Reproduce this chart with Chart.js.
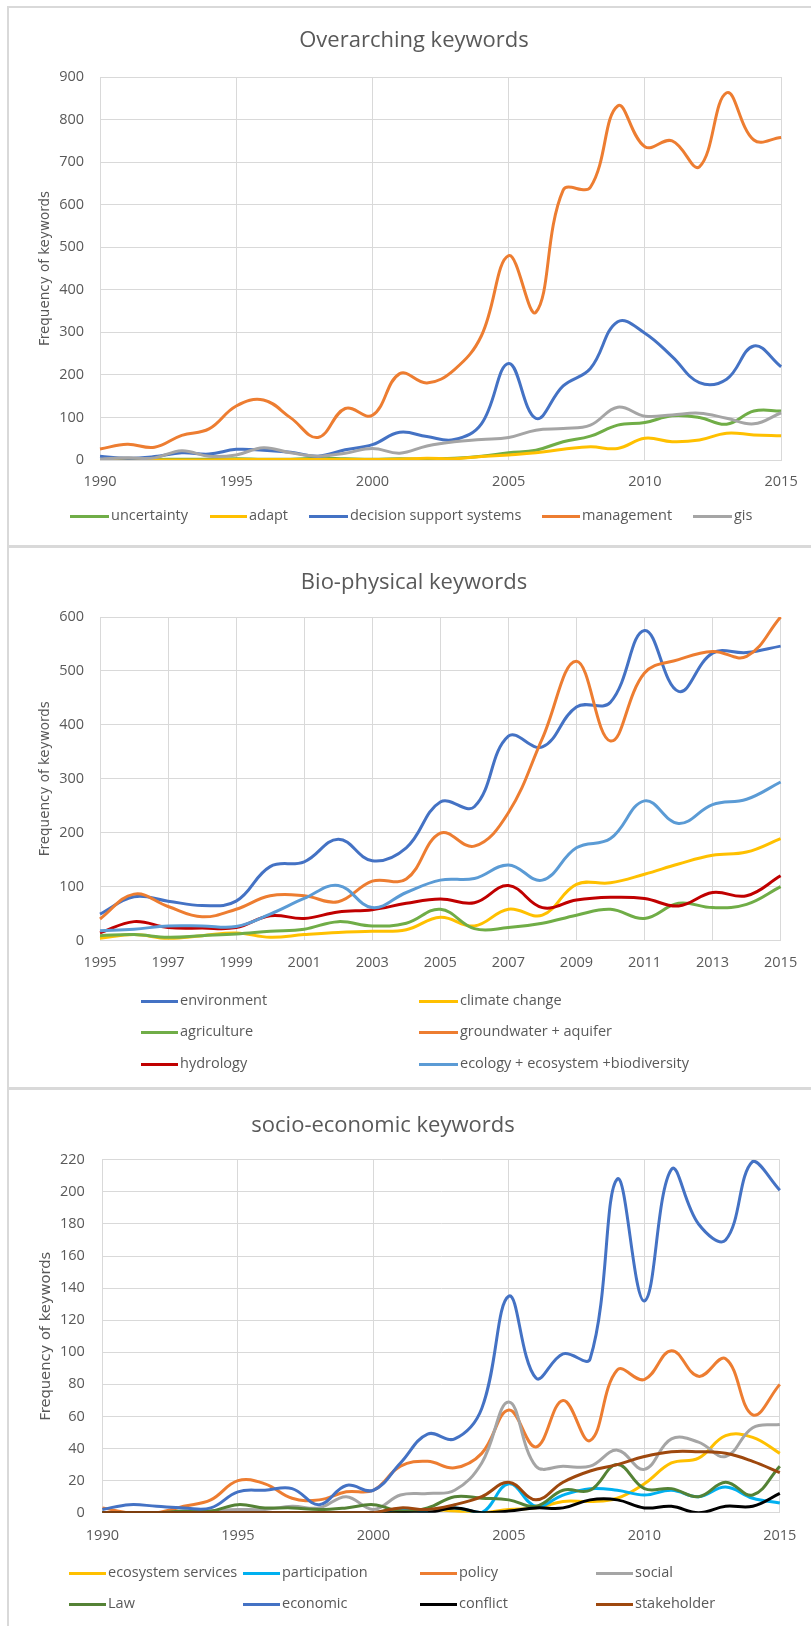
<!DOCTYPE html>
<html>
<head>
<meta charset="utf-8">
<script src="https://cdn.jsdelivr.net/npm/chart.js@4.4.0/dist/chart.umd.min.js"></script>
<style>
body { margin: 0; background: #fff; }
#page { position: relative; width: 811px; height: 1626px; overflow: hidden; background: #fff; font-family: 'Open Sans', sans-serif; color: #595959; }
.rule { position: absolute; background: #d9d9d9; }
canvas { position: absolute; left: 8px; }
.title { position: absolute; width: 500px; text-align: center; font-size: 22px; line-height: 30px; white-space: nowrap; }
.swatch { position: absolute; height: 3px; }
.label { position: absolute; font-size: 14.5px; line-height: 20px; white-space: nowrap; }
</style>
</head>
<body>
<div id="page">
  <div class="rule" style="left:7px;top:6px;width:2px;height:1620px"></div>
  <div class="rule" style="left:7px;top:6px;width:804px;height:2px"></div>
  <div class="rule" style="left:7px;top:545px;width:804px;height:3px"></div>
  <div class="rule" style="left:7px;top:1087px;width:804px;height:3px"></div>
  <canvas id="overarching" width="803" height="537" style="top:8px"></canvas>
  <canvas id="biophysical" width="803" height="539" style="top:548px"></canvas>
  <canvas id="socioeconomic" width="803" height="536" style="top:1090px"></canvas>
</div>
<script>
Chart.defaults.font.family = "'Open Sans', sans-serif";
Chart.defaults.color = '#595959';

// Overarching keywords (1990-2015)
const overYears = [1990,1991,1992,1993,1994,1995,1996,1997,1998,1999,2000,2001,2002,2003,2004,2005,2006,2007,2008,2009,2010,2011,2012,2013,2014,2015];
const overNames = ['uncertainty', 'adapt', 'decision support systems', 'management', 'gis'];
const overColors = ['#70AD47', '#FFC000', '#4472C4', '#ED7D31', '#A5A5A5'];
const uncertainty = [0,0,1,2,2,3,2,2,4,3,2,3,2,4,9,17,23,43,56,82,88,104,100,84,115,115];
const adapt = [0,0,0,0,0,1,1,1,1,1,1,2,4,3,8,12,17,25,31,27,51,43,47,63,59,57];
const decisionSupport = [9,4,8,17,14,25,23,18,9,24,36,65,55,48,85,227,98,174,215,325,298,243,182,190,268,219];
const management = [26,37,30,58,73,127,141,99,53,121,105,203,181,212,292,480,347,634,641,832,736,750,689,863,752,758];
const gis = [2,5,5,22,9,12,29,17,9,16,27,16,33,43,48,53,70,74,82,124,103,106,110,98,85,111];

// Bio-physical keywords (1995-2015)
const bioYears = [1995,1996,1997,1998,1999,2000,2001,2002,2003,2004,2005,2006,2007,2008,2009,2010,2011,2012,2013,2014,2015];
const bioNames = ['environment', 'climate change', 'agriculture', 'groundwater + aquifer', 'hydrology', 'ecology + ecosystem +biodiversity'];
const bioColors = ['#4472C4', '#FFC000', '#70AD47', '#ED7D31', '#C00000', '#5B9BD5'];
const environment = [49,81,73,65,73,137,146,188,148,172,257,248,379,359,433,442,575,462,533,534,546];
const climateChange = [4,11,4,9,14,6,11,15,17,20,43,27,58,47,104,107,123,142,158,164,189];
const agriculture = [9,11,6,9,12,17,21,35,27,32,58,22,24,32,47,58,41,69,61,67,100];
const groundwater = [40,86,63,44,58,83,83,72,110,114,199,175,237,375,518,370,496,521,536,527,600];
const hydrology = [14,35,24,23,24,46,41,53,57,69,77,70,102,61,75,80,78,64,89,83,120];
const ecology = [18,21,27,27,26,49,78,102,61,89,112,115,140,112,172,189,259,217,252,262,294];

// socio-economic keywords (1990-2015)
const socioYears = [1990,1991,1992,1993,1994,1995,1996,1997,1998,1999,2000,2001,2002,2003,2004,2005,2006,2007,2008,2009,2010,2011,2012,2013,2014,2015];
const socioNames = ['ecosystem services', 'participation', 'policy', 'social', 'Law', 'economic', 'conflict', 'stakeholder'];
const socioColors = ['#FFC000', '#00B0F0', '#ED7D31', '#A5A5A5', '#548235', '#4472C4', '#000000', '#9E480E'];
const ecosystemServices = [0,0,0,0,0,0,0,0,0,0,0,1,2,1,0,2,3,7,7,9,18,31,34,48,47,37];
const participation = [0,0,0,0,0,0,0,0,0,0,0,2,1,3,0,18,4,11,15,14,11,14,10,16,9,6];
const policy = [3,0,0,4,8,20,18,9,8,13,14,29,32,28,37,64,41,70,45,89,83,101,85,96,61,80];
const social = [0,0,0,0,1,2,2,4,3,10,2,11,12,14,31,69,29,29,29,39,27,46,44,35,53,55];
const law = [0,0,0,1,1,5,3,3,2,3,5,1,3,10,9,8,4,14,14,30,15,15,10,19,11,29];
const economic = [2,5,4,3,3,13,14,15,5,17,14,31,49,46,65,135,84,99,96,208,132,214,180,170,219,201];
const conflict = [0,0,0,0,0,0,0,0,0,0,0,0,0,3,0,1,3,3,8,8,3,4,0,4,4,12];
const stakeholder = [0,0,0,0,0,0,0,0,0,0,0,3,2,5,10,19,8,19,26,30,35,38,38,37,32,25];

const page = document.getElementById('page');

function addTitle(text, centerX, centerY) {
    const el = document.createElement('div');
    el.className = 'title';
    el.textContent = text;
    el.style.left = (centerX - 250) + 'px';
    el.style.top = (centerY - 15) + 'px';
    page.appendChild(el);
}

// legend drawn as html, laid out in a grid like the excel one
function addLegend(names, colors, rowYs, cols) {
    names.forEach((name, i) => {
        const row = Math.floor(i / cols.length);
        const col = cols[i % cols.length];
        const sw = document.createElement('div');
        sw.className = 'swatch';
        sw.style.left = col[0] + 'px';
        sw.style.width = (col[1] - col[0]) + 'px';
        sw.style.top = (rowYs[row] - 1.5) + 'px';
        sw.style.background = colors[i];
        page.appendChild(sw);
        const lb = document.createElement('div');
        lb.className = 'label';
        lb.textContent = name;
        lb.style.left = (col[1] + 2) + 'px';
        lb.style.top = (rowYs[row] - 11) + 'px';
        page.appendChild(lb);
    });
}

function makeChart(id, cfg) {
    const n = cfg.names.length;
    return new Chart(document.getElementById(id), {
        type: 'line',
        data: {
            labels: cfg.labels,
            datasets: cfg.names.map((name, i) => ({
                label: name,
                data: cfg.series[i],
                borderColor: cfg.colors[i],
                backgroundColor: cfg.colors[i],
                borderWidth: 3,
                pointRadius: 0,
                tension: 0.4,
                fill: false,
                order: n - i
            }))
        },
        options: {
            responsive: false,
            animation: false,
            layout: { padding: cfg.padding },
            plugins: {
                legend: { display: false },
                tooltip: { enabled: false },
                title: { display: false }
            },
            scales: {
                x: {
                    grid: {
                        color: ctx => ctx.index % cfg.every === 0 ? '#d9d9d9' : 'rgba(0,0,0,0)',
                        drawTicks: false
                    },
                    border: { color: '#d9d9d9' },
                    ticks: {
                        autoSkip: false,
                        maxRotation: 0,
                        padding: cfg.xPad,
                        font: { size: 14.5 },
                        callback: function(v, i) {
                            return i % cfg.every === 0 ? this.getLabelForValue(v) : '';
                        }
                    },
                    afterFit: s => { s.height = 40; }
                },
                y: {
                    min: 0,
                    max: cfg.max,
                    grid: { color: '#d9d9d9', drawTicks: false },
                    border: { color: '#d9d9d9' },
                    ticks: { stepSize: cfg.step, padding: cfg.yPad, font: { size: 14.5 } },
                    title: {
                        display: true,
                        text: 'Frequency of keywords',
                        font: { family: 'DejaVu Sans', size: cfg.ySize },
                        padding: { top: cfg.yTitlePad, bottom: 0 }
                    },
                    afterFit: s => { s.width = cfg.yWidth; }
                }
            }
        }
    });
}

makeChart('overarching', {
    labels: overYears,
    names: overNames,
    colors: overColors,
    series: [uncertainty, adapt, decisionSupport, management, gis],
    every: 5, max: 900, step: 100,
    padding: { left: 0, right: 28, top: 69, bottom: 45 },
    xPad: 13.3, yPad: 16, yWidth: 92, ySize: 13.5, yTitlePad: 29.4
});
addTitle('Overarching keywords', 414, 38);
addLegend(overNames, overColors, [516], [[70,109],[210,247],[309,348],[542,580],[693,732]]);

makeChart('biophysical', {
    labels: bioYears,
    names: bioNames,
    colors: bioColors,
    series: [environment, climateChange, agriculture, groundwater, hydrology, ecology],
    every: 2, max: 600, step: 100,
    padding: { left: 0, right: 28, top: 69, bottom: 106.5 },
    xPad: 13.8, yPad: 16, yWidth: 92, ySize: 13.5, yTitlePad: 29.4
});
addTitle('Bio-physical keywords', 414, 580);
addLegend(bioNames, bioColors, [1001, 1032, 1064], [[141,178],[419,458]]);

makeChart('socioeconomic', {
    labels: socioYears,
    names: socioNames,
    colors: socioColors,
    series: [ecosystemServices, participation, policy, social, law, economic, conflict, stakeholder],
    every: 5, max: 220, step: 20,
    padding: { left: 0, right: 28, top: 69.8, bottom: 73.3 },
    xPad: 14.6, yPad: 17.5, yWidth: 94.4, ySize: 14.7, yTitlePad: 29.2
});
addTitle('socio-economic keywords', 383, 1123);
addLegend(socioNames, socioColors, [1573, 1604], [[69,106],[243,280],[420,457],[596,633]]);
</script>
</body>
</html>
